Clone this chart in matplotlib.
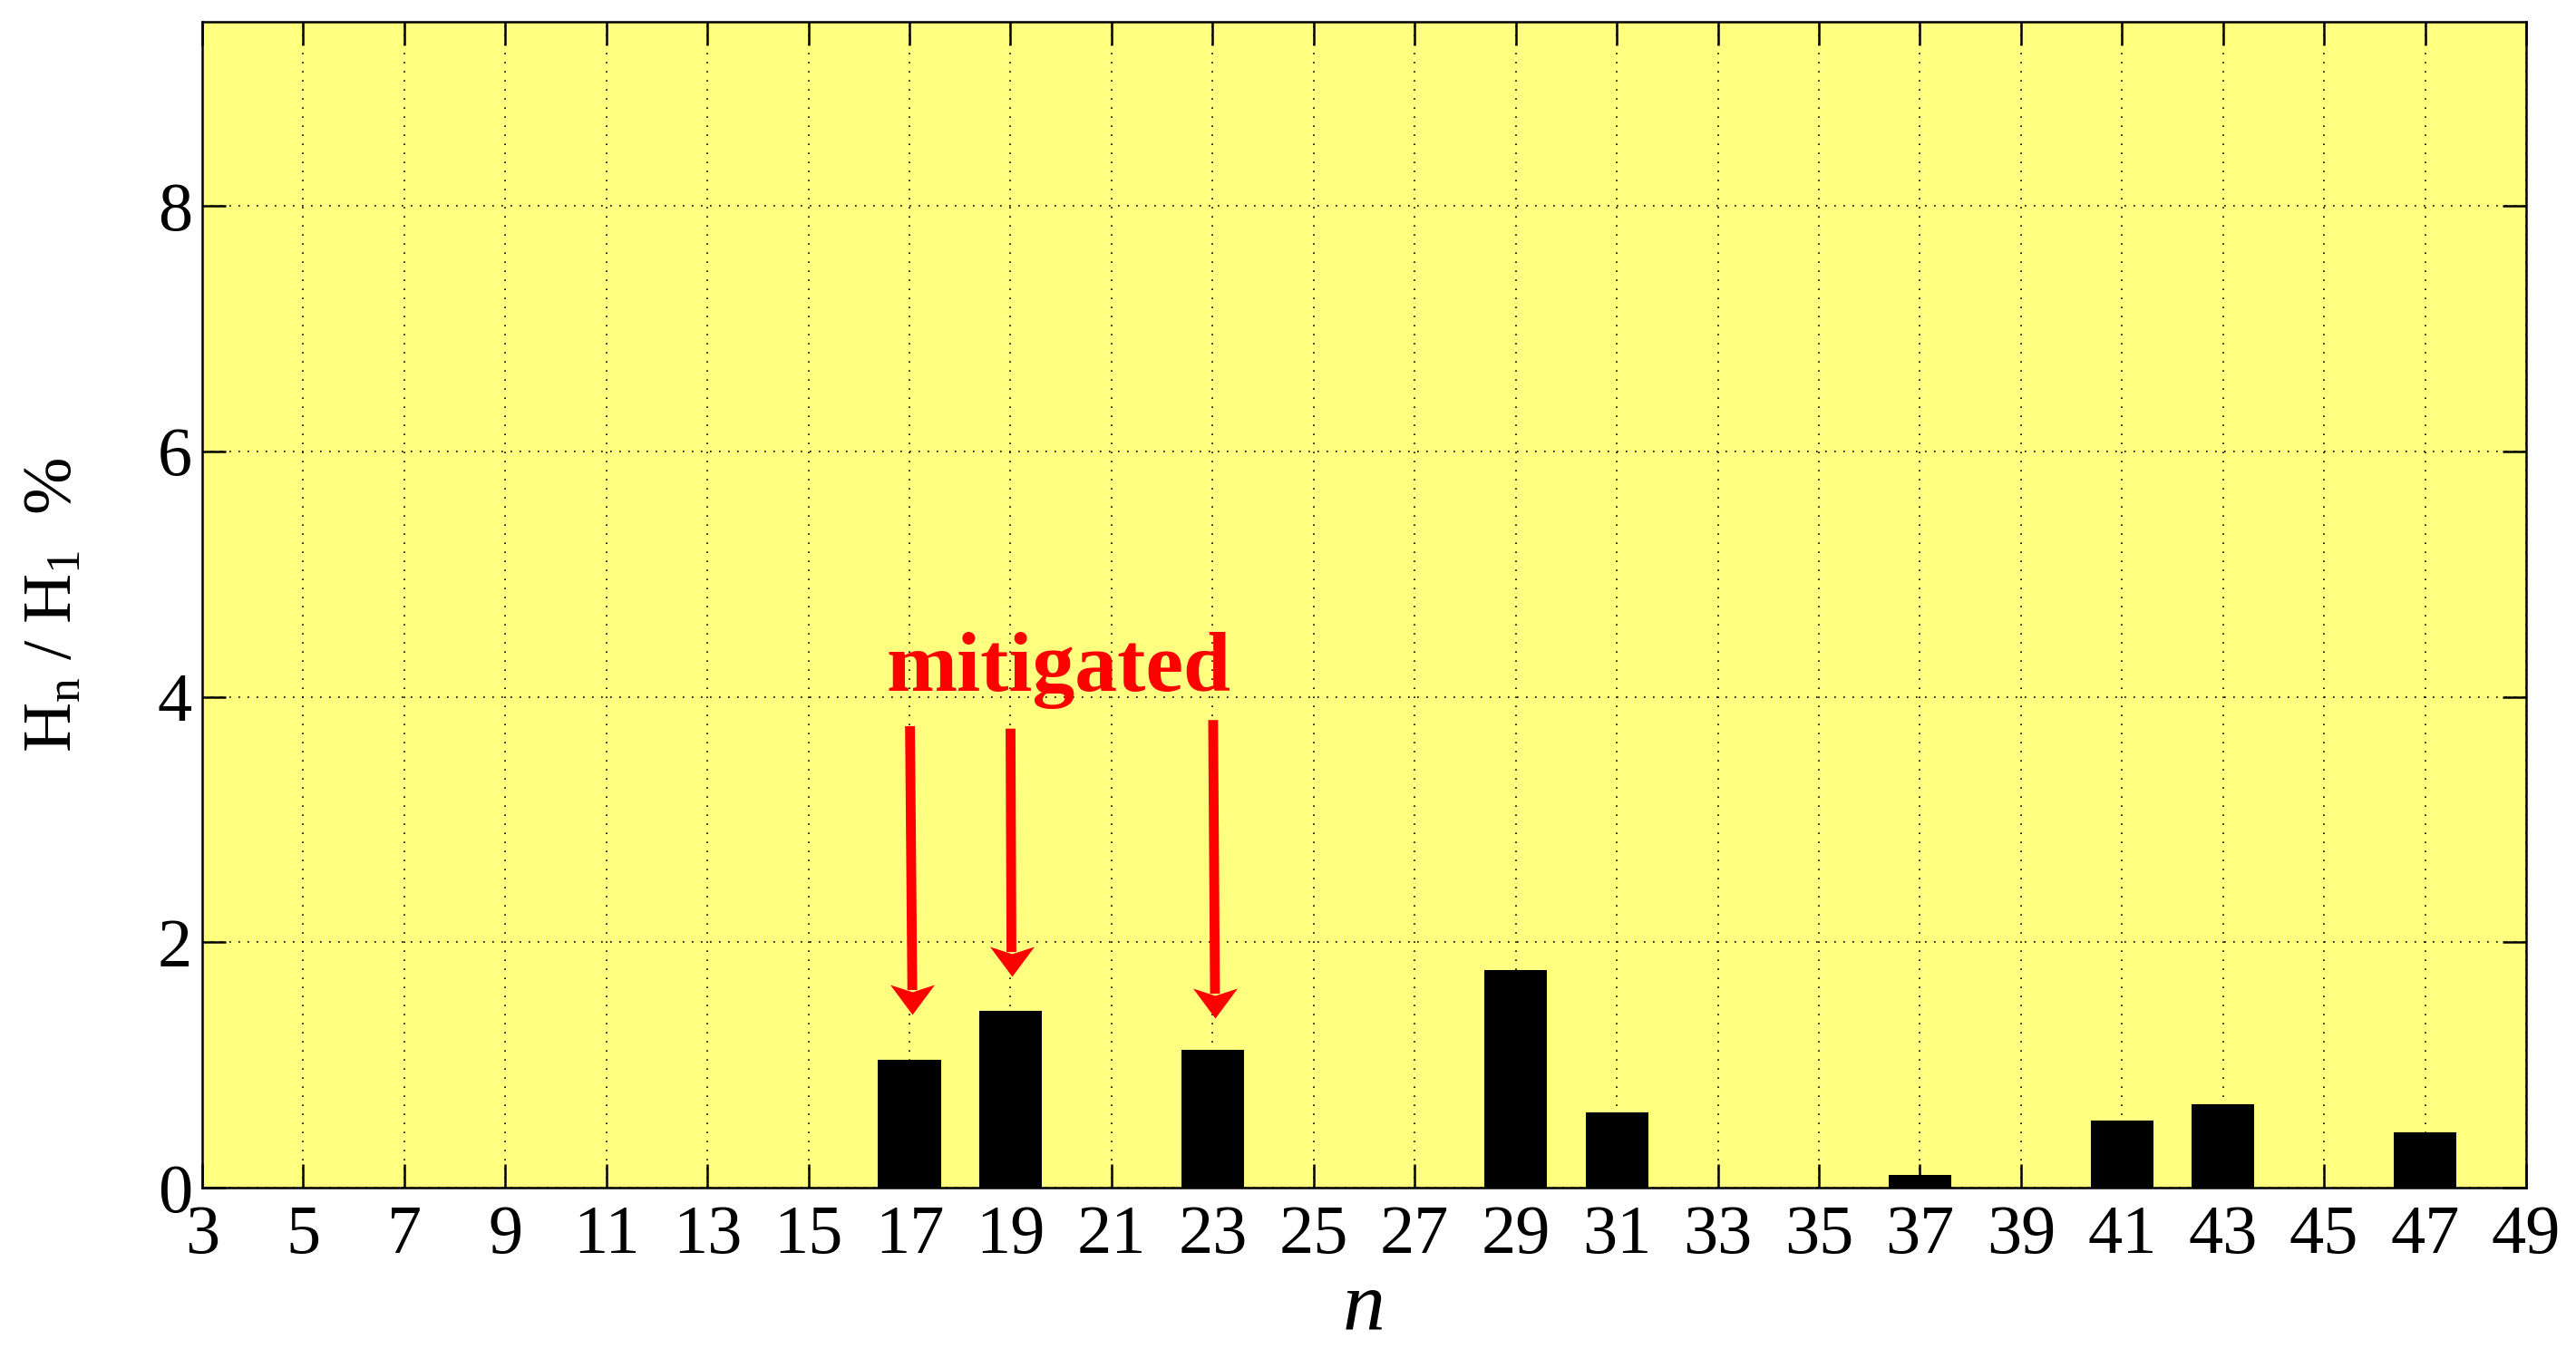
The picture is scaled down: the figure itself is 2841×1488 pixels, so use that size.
import matplotlib
matplotlib.use("Agg")
import matplotlib.pyplot as plt
from matplotlib.path import Path
import numpy as np

# ---- data ----
harmonics = list(range(3, 50, 2))
values = {17: 1.04, 19: 1.44, 23: 1.12, 29: 1.77, 31: 0.61,
          37: 0.10, 41: 0.545, 43: 0.68, 47: 0.45}
heights = [values.get(n, 0.0) for n in harmonics]
xticks = list(range(3, 50, 2))
yticks = [0, 2, 4, 6, 8]
annot_text = "mitigated"
annot_pos = (19.95, 4.05)
arrow_tails = [(17.01, 3.76), (19.00, 3.74), (23.01, 3.81)]
arrow_tips = [(17.06, 1.41), (19.02, 1.72), (23.05, 1.38)]

plt.rcParams['font.family'] = ['Liberation Serif', 'DejaVu Serif']
plt.rcParams['mathtext.fontset'] = 'custom'
plt.rcParams['mathtext.rm'] = 'Liberation Serif'
plt.rcParams['mathtext.it'] = 'Liberation Serif:italic'

dpi = 300
W, H = 2841, 1488
fig = plt.figure(figsize=(W / dpi, H / dpi), dpi=dpi)
ax = fig.add_axes([223 / W, (H - 1310) / H, (2786 - 223) / W, (1310 - 24) / H])
ax.set_facecolor((1.0, 1.0, 0.5))

ax.bar(harmonics, heights, width=1.24, color='black', edgecolor='none', zorder=3)

ax.set_xlim(3, 49)
ax.set_ylim(0, 9.5)
ax.set_xticks(xticks)
ax.set_yticks(yticks)
ax.tick_params(direction='in', length=6.2, width=0.6, top=True, right=True,
               labelsize=18.3)
ax.tick_params(axis='x', pad=4.5)
ax.tick_params(axis='y', pad=2.6)
for s in ax.spines.values():
    s.set_linewidth(0.6)
    s.set_zorder(5)
ax.grid(True, color='black', linestyle=(0, (1, 5)), linewidth=0.4, zorder=1)
ax.set_axisbelow(True)

ax.set_xlabel('n', fontsize=22.5, style='italic', labelpad=1)
ax.set_ylabel(r'$\mathrm{H_n\ /\ H_1}\ \ \%$', fontsize=18.3, labelpad=19)

ax.text(annot_pos[0], annot_pos[1], annot_text, color='red', fontsize=22.5,
        fontweight='bold', ha='center', va='baseline', zorder=6)

# notched arrow head (MATLAB 'vback2'-like), tip at marker origin
head = Path([(0, 0), (24.5, 33), (0, 25), (-24.5, 33), (0, 0)],
            [Path.MOVETO, Path.LINETO, Path.LINETO, Path.LINETO, Path.CLOSEPOLY])
head_ms = 2 * 33 * 72 / dpi

for tail, tip in zip(arrow_tails, arrow_tips):
    ax.annotate('', xy=tip, xytext=tail,
                arrowprops=dict(arrowstyle='-', color='red', lw=2.6,
                                shrinkA=0, shrinkB=6.5, capstyle='butt'),
                zorder=6)
    ax.plot([tip[0]], [tip[1]], marker=head, markersize=head_ms, color='red',
            markeredgewidth=0, linestyle='none', zorder=7)

fig.savefig('out.png', dpi=dpi)
